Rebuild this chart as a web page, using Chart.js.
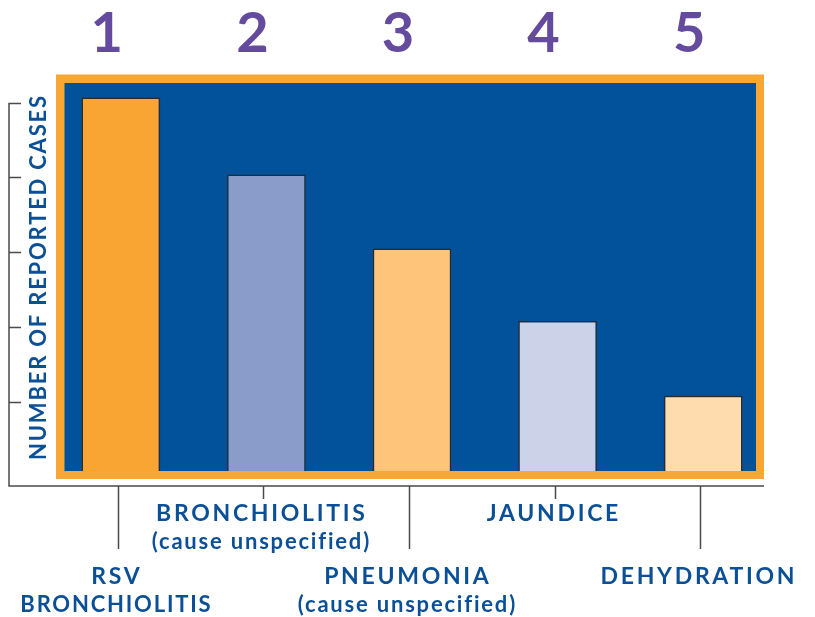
<!DOCTYPE html>
<html>
<head>
<meta charset="utf-8">
<script src="https://cdn.jsdelivr.net/npm/chart.js@4.4.0/dist/chart.umd.min.js"></script>
<style>
  html, body { margin: 0; padding: 0; background: #ffffff; }
  #wrap { width: 815px; height: 617px; }
</style>
</head>
<body>
<div id="wrap"><canvas id="chart" width="815" height="617"></canvas></div>
<script>
// values, in units of the left axis ticks
var categories = [
    ['RSV', 'BRONCHIOLITIS'],
    ['BRONCHIOLITIS', '(cause unspecified)'],
    ['PNEUMONIA', '(cause unspecified)'],
    ['JAUNDICE'],
    ['DEHYDRATION']
];
var ranks   = ['1', '2', '3', '4', '5'];
var cases   = [5.07, 4.04, 3.05, 2.08, 1.08];
var yTicks  = [1, 2, 3, 4, 5];
var colors  = ['#f9a533', '#8a9dca', '#fdc47a', '#ccd2e7', '#fedcae'];

var BLUE   = '#01519b';
var ORANGE = '#f9a733';
var TEXT   = '#0b5097';
var PURPLE = '#654b9e';
var LINE   = '#4a4a4a';

// centred text with extra tracking (canvas adds the gap after the last glyph too)
function spaced(ctx, s, px, py, gap) {
    ctx.letterSpacing = gap + 'px';
    ctx.fillText(s, px + gap / 2, py);
    ctx.letterSpacing = '0px';
}

var decor = {
    id: 'decor',
    beforeDatasetsDraw: function(chart) {
        var ctx = chart.ctx, a = chart.chartArea;
        var left = a.left + 16.5, right = a.right - 20;
        ctx.save();
        ctx.fillStyle = ORANGE;
        ctx.fillRect(left - 8.5, a.top - 8.5, right - left + 16.5, a.bottom - a.top + 16.5);
        ctx.fillStyle = BLUE;
        ctx.fillRect(left, a.top, right - left, a.bottom - a.top);
        ctx.restore();
    },
    afterDatasetsDraw: function(chart) {
        var ctx = chart.ctx, a = chart.chartArea;
        var x = chart.scales.x, y = chart.scales.y;
        var axisX = 9, axisY = a.bottom + 15;
        ctx.save();

        // outer axis
        ctx.strokeStyle = LINE;
        ctx.lineWidth = 1.5;
        ctx.beginPath();
        ctx.moveTo(axisX, y.getPixelForValue(yTicks[yTicks.length - 1]));
        ctx.lineTo(axisX, axisY);
        ctx.lineTo(a.right - 12, axisY);
        yTicks.forEach(function(t) {
            var py = Math.round(y.getPixelForValue(t)) + 0.5;
            ctx.moveTo(axisX, py);
            ctx.lineTo(axisX + 12, py);
        });
        ctx.stroke();

        // leader lines and labels
        ctx.textAlign = 'center';
        ctx.textBaseline = 'middle';
        ctx.fillStyle = TEXT;
        categories.forEach(function(lines, i) {
            var px = Math.round(x.getPixelForValue(i)) - 2.5;
            var low = (i % 2 === 0);
            ctx.beginPath();
            ctx.moveTo(px, axisY);
            ctx.lineTo(px, low ? axisY + 63 : axisY + 13);
            ctx.stroke();
            var top = low ? 577 : 514;
            lines.forEach(function(s, j) {
                if (j === 0) {
                    ctx.font = 'bold 23px Lato';
                    spaced(ctx, s, px - 3, top, 2.7);
                } else {
                    ctx.font = 'bold 22px Lato';
                    spaced(ctx, s, px - 3, top + j * 28, 1.8);
                }
            });
        });

        // rank numbers
        ctx.fillStyle = PURPLE;
        ctx.font = 'bold 56px Lato';
        ranks.forEach(function(r, i) {
            ctx.fillText(r, x.getPixelForValue(i) - 14, 34);
        });

        // axis title
        ctx.translate(39, 278);
        ctx.rotate(-Math.PI / 2);
        ctx.fillStyle = TEXT;
        ctx.font = 'bold 22px Lato';
        spaced(ctx, 'NUMBER OF REPORTED CASES', 0, 0, 1.8);
        ctx.restore();
    }
};

new Chart(document.getElementById('chart').getContext('2d'), {
    type: 'bar',
    data: {
        labels: categories,
        datasets: [{
            data: cases,
            backgroundColor: colors,
            borderColor: '#2b2b2b',
            borderWidth: 1.5,
            borderSkipped: false,
            categoryPercentage: 1,
            barPercentage: 0.54
        }]
    },
    options: {
        responsive: false,
        animation: false,
        layout: { padding: { left: 48, right: 39, top: 83, bottom: 146 } },
        plugins: { legend: { display: false }, tooltip: { enabled: false } },
        scales: {
            x: { display: false },
            y: { display: false, min: 0.074, max: 5.264 }
        }
    },
    plugins: [decor]
});
</script>
</body>
</html>
